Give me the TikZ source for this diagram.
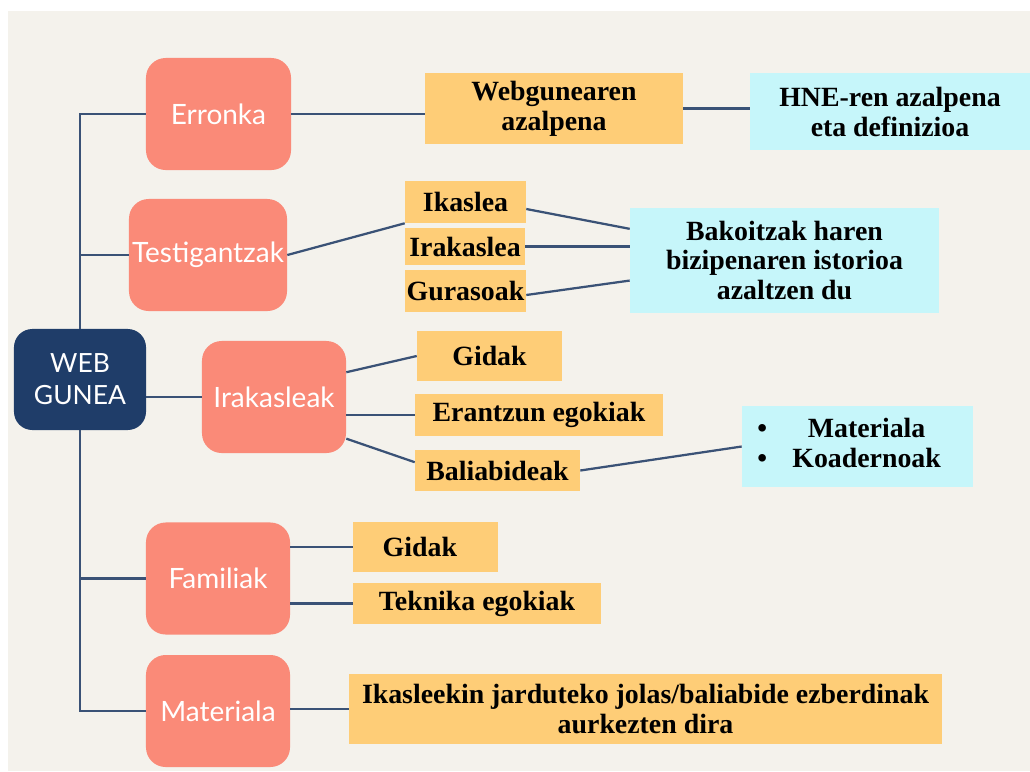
\documentclass[tikz,border=0pt]{standalone}
\usepackage{fontspec}
\setmainfont{Liberation Serif}
\newfontfamily\latofont{Lato}
\usetikzlibrary{calc}
\definecolor{wNavy}{HTML}{1F3D69}
\definecolor{wSalmon}{HTML}{FA8A78}
\definecolor{wYellow}{HTML}{FECD77}
\definecolor{wCyan}{HTML}{C6F6FA}
\definecolor{wLine}{HTML}{3A5276}
\definecolor{wBg}{HTML}{F4F2EC}
\tikzset{
  root/.style={fill=wNavy, text=white, rounded corners=13pt, align=center,
               minimum width=3.3cm, minimum height=2.525cm, inner sep=0pt,
               font=\latofont\fontsize{18.8}{22.8}\selectfont},
  topic/.style={fill=wSalmon, text=white, rounded corners=14pt, inner sep=0pt,
                minimum width=#1, minimum height=2.8cm,
                font=\latofont\fontsize{19.9}{23}\selectfont},
  topic/.default=3.6cm,
  leaf/.style={fill=wYellow, align=center, inner sep=0pt, minimum width=#1,
               font=\bfseries\fontsize{19.8}{21.3}\selectfont},
  leaf/.default=3cm,
  note/.style={leaf=#1, fill=wCyan},
  link/.style={wLine, line width=1.6pt},
}
\begin{document}
\begin{tikzpicture}[x=0.025cm, y=-0.025cm]
    \useasboundingbox (0,0) rectangle (1030,771);
    \fill[white] (0,0) rectangle (1030,771);
    \fill[wBg] (8,11) rectangle (1030,771);
    \node[root] (web) at (80,379.5) {WEB\\GUNEA};
    \node[topic=3.625cm] (erronka) at (218.5,114) {Erronka};
    \node[topic=3.95cm] (testig) at (208,255) {Testigantzak};
    \node[topic] (irakasleak) at (274,397) {Irakasleak};
    \node[topic] (familiak) at (218,578.5) {Familiak};
    \node[topic] (materiala) at (218,711) {Materiala};
    \node[leaf=6.45cm, minimum height=1.775cm] (webazal) at (554,108.5)
      {Webgunearen\\azalpena};
    \node[note=7cm, minimum height=1.925cm] (hne) at (890,111.5)
      {HNE-ren azalpena\\eta definizioa};
    \node[leaf=3.025cm, minimum height=1.05cm] (ikaslea) at (465.5,202) {Ikaslea};
    \node[leaf=3cm, minimum height=0.925cm] (irakaslea) at (465,246.5) {Irakaslea};
    \node[leaf=3.025cm, minimum height=1.05cm] (gurasoak) at (465.5,291) {Gurasoak};
    \node[note=7.725cm, minimum height=2.625cm] (bakoitzak) at (784.5,260.5)
      {Bakoitzak haren\\bizipenaren istorioa\\azaltzen du};
    \node[leaf=3.625cm, minimum height=1.25cm] (gidakira) at (489.5,356) {Gidak};
    \node[leaf=6.2cm, minimum height=1.05cm] (erantzun) at (539,415) {Erantzun egokiak};
    \node[leaf=4.125cm, minimum height=1.025cm] (baliab) at (497.5,470.5) {Baliabideak};
    \node[note=5.775cm, minimum height=2.025cm] (matkoad) at (857.5,446.5)
      {\begin{tabular}{@{}c@{\hspace{18pt}}c@{}}\textbullet & Materiala\\
       \textbullet & Koadernoak\end{tabular}\hspace{12pt}};
    \node[leaf=3.625cm, minimum height=1.25cm] (gidakfam) at (425.5,547) {Gidak\hspace{8pt}};
    \node[leaf=6.2cm, minimum height=1.025cm] (teknika) at (477,603.5) {Teknika egokiak};
    \node[leaf=14.825cm, minimum height=1.75cm] (ikasleekin) at (645.5,709)
      {Ikasleekin jarduteko jolas/baliabide ezberdinak\\aurkezten dira};
    \draw[link] (web.north) |- (erronka.west);
    \draw[link] (web.north) |- (testig.west);
    \draw[link] (web.south) |- (familiak.west);
    \draw[link] (web.south) |- (materiala.west);
    \draw[link] (irakasleak.west) -- (irakasleak.west -| web.east);
    \draw[link] (erronka.east) -- (erronka.east -| webazal.west);
    \draw[link] (webazal.east) -- (webazal.east -| hne.west);
    \draw[link] (testig.east) -- (ikaslea.south west);
    \draw[link] ($(ikaslea.east)+(0,7)$) -- ($(bakoitzak.north west)!0.2!(bakoitzak.south west)$);
    \draw[link] (irakaslea.east) -- (irakaslea.east -| bakoitzak.west);
    \draw[link] ($(gurasoak.east)+(0,4)$) -- ($(bakoitzak.north west)!0.69!(bakoitzak.south west)$);
    \draw[link] ($(irakasleak.north east)!0.28!(irakasleak.south east)$) -- (gidakira.west);
    \draw[link] (erantzun.west -| irakasleak.east) -- (erantzun.west);
    \draw[link] ($(irakasleak.north east)!0.87!(irakasleak.south east)$)
      -- ($(baliab.north west)!0.3!(baliab.south west)$);
    \draw[link] (baliab.east) -- (matkoad.west);
    \draw[link] (gidakfam.west -| familiak.east) -- (gidakfam.west);
    \draw[link] (teknika.west -| familiak.east) -- (teknika.west);
    \draw[link] (ikasleekin.west -| materiala.east) -- (ikasleekin.west);
  \end{tikzpicture}
\end{document}
